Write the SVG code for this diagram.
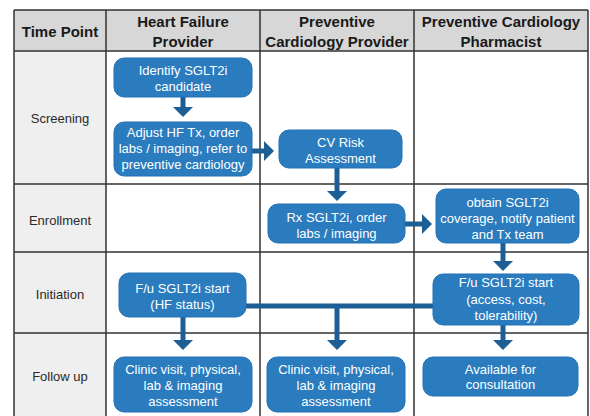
<svg xmlns="http://www.w3.org/2000/svg" width="590" height="416" viewBox="0 0 590 416">
<defs>
<style>
.hdr{font-family:"Liberation Sans",Arial,sans-serif;font-size:15px;font-weight:bold;fill:#1a1a1a;text-anchor:middle}
.row{font-family:"Liberation Sans",Arial,sans-serif;font-size:13px;fill:#2a2a2a;text-anchor:middle}
.box rect{fill:#2a7cbf;stroke:#2471b3;stroke-width:1}
.box text{font-family:"Liberation Sans",Arial,sans-serif;font-size:13px;fill:#ffffff;text-anchor:middle}
.grid{stroke:#333333;stroke-width:1.5;fill:none}
.conn{stroke:#1d5f94;stroke-width:5;fill:none}
.arr{stroke:#1d5f94;stroke-width:5;fill:none;marker-end:url(#ah)}
</style>
<marker id="ah" markerUnits="userSpaceOnUse" viewBox="0 0 10 20" markerWidth="10" markerHeight="20" refX="0" refY="10" orient="auto">
<path d="M0,0 L10,10 L0,20 z" fill="#1d5f94"/>
</marker>
</defs>
<rect x="0" y="0" width="590" height="416" fill="#ffffff"/>
<g id="table">
<rect x="14" y="10" width="574" height="41" fill="#d7d7d7"/>
<rect x="14" y="51" width="92" height="365" fill="#efefef"/>
<path class="grid" d="M14,10 H588 M14,51 H588 M14,184 H588 M14,252 H588 M14,333 H588 M14,10 V416 M106,10 V416 M260,10 V416 M414,10 V416 M588,10 V416"/>
<text class="hdr" x="60" y="37">Time Point</text>
<text class="hdr" x="183" y="27">Heart Failure</text>
<text class="hdr" x="183" y="47">Provider</text>
<text class="hdr" x="337" y="27">Preventive</text>
<text class="hdr" x="337" y="47">Cardiology Provider</text>
<text class="hdr" x="501" y="27">Preventive Cardiology</text>
<text class="hdr" x="501" y="47">Pharmacist</text>
<text class="row" x="60" y="122.5">Screening</text>
<text class="row" x="60" y="224.5">Enrollment</text>
<text class="row" x="60" y="298.5">Initiation</text>
<text class="row" x="60" y="380.5">Follow up</text>
</g>
<g id="connectors">
<line class="arr" x1="183" y1="97" x2="183" y2="107"/>
<line class="arr" x1="252" y1="151" x2="264" y2="151"/>
<line class="arr" x1="337" y1="168" x2="337" y2="191"/>
<line class="arr" x1="405" y1="224" x2="422" y2="224"/>
<line class="arr" x1="503" y1="243" x2="503" y2="261"/>
<line class="arr" x1="503" y1="325" x2="503" y2="340"/>
<line class="arr" x1="183" y1="317" x2="183" y2="340"/>
<line class="conn" x1="246" y1="306" x2="433" y2="306"/>
<line class="arr" x1="337" y1="306" x2="337" y2="340"/>
</g>
<g id="identify" class="box">
<rect x="114" y="58" width="138" height="39" rx="10"/>
<text x="183" y="75">Identify SGLT2i</text>
<text x="183" y="91">candidate</text>
</g>
<g id="adjust" class="box">
<rect x="114" y="122" width="138" height="54" rx="10"/>
<text x="183" y="136.5">Adjust HF Tx, order</text>
<text x="183" y="152.5">labs / imaging, refer to</text>
<text x="183" y="168.5">preventive cardiology</text>
</g>
<g id="cvrisk" class="box">
<rect x="279" y="130" width="123" height="38" rx="10"/>
<text x="340.5" y="146.5">CV Risk</text>
<text x="340.5" y="162.5">Assessment</text>
</g>
<g id="rx" class="box">
<rect x="268" y="204" width="137" height="39" rx="10"/>
<text x="336.5" y="221.5">Rx SGLT2i, order</text>
<text x="336.5" y="237.5">labs / imaging</text>
</g>
<g id="obtain" class="box">
<rect x="436" y="189" width="143" height="54" rx="10"/>
<text x="507.5" y="206.5">obtain SGLT2i</text>
<text x="507.5" y="222.5">coverage, notify patient</text>
<text x="507.5" y="238.5">and Tx team</text>
</g>
<g id="fu-hf" class="box">
<rect x="119" y="273" width="127" height="44" rx="10"/>
<text x="182.5" y="292.5">F/u SGLT2i start</text>
<text x="182.5" y="308.5">(HF status)</text>
</g>
<g id="fu-pharm" class="box">
<rect x="433" y="274" width="146" height="51" rx="10"/>
<text x="506" y="286.5">F/u SGLT2i start</text>
<text x="506" y="303.5">(access, cost,</text>
<text x="506" y="320">tolerability)</text>
</g>
<g id="clinic-hf" class="box">
<rect x="114" y="357" width="138" height="55" rx="10"/>
<text x="183" y="373.5">Clinic visit, physical,</text>
<text x="183" y="389.5">lab &amp; imaging</text>
<text x="183" y="405.5">assessment</text>
</g>
<g id="clinic-prev" class="box">
<rect x="267" y="357" width="138" height="55" rx="10"/>
<text x="336" y="373.5">Clinic visit, physical,</text>
<text x="336" y="389.5">lab &amp; imaging</text>
<text x="336" y="405.5">assessment</text>
</g>
<g id="available" class="box">
<rect x="423" y="357" width="155" height="39" rx="10"/>
<text x="500.5" y="373.5">Available for</text>
<text x="500.5" y="388.5">consultation</text>
</g>
</svg>
